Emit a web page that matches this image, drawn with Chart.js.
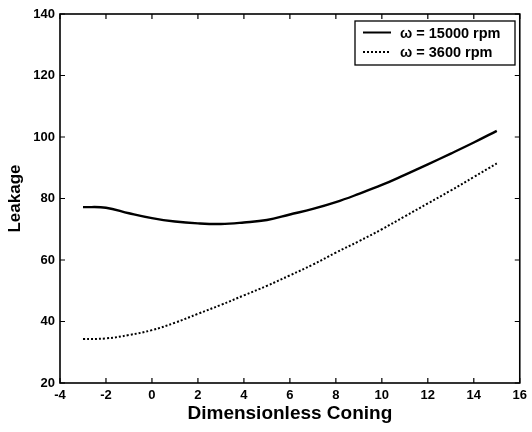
<!DOCTYPE html>
<html><head><meta charset="utf-8">
<script src="https://cdn.jsdelivr.net/npm/chart.js@4"></script>
<style>html,body{margin:0;padding:0;background:#fff}#wrap{width:532px;height:432px}</style>
</head><body><div id="wrap"><canvas id="c" width="532" height="432"></canvas></div>
<script>
const coning = [-3,-2,-1,0,1,2,3,4,5,6,7,8,9,10,11,12,13,14,15];
const leak15000 = [77.2,77.0,75.2,73.6,72.5,71.9,71.7,72.2,73.0,74.8,76.6,78.8,81.5,84.4,87.7,91.1,94.6,98.2,102];
const leak3600 = [34.3,34.5,35.6,37.2,39.6,42.5,45.4,48.5,51.6,55.0,58.5,62.4,66.1,70.0,74.2,78.4,82.6,87.0,91.4];
const seriesLabels = ['\u03c9 = 15000 rpm','\u03c9 = 3600 rpm'];
const xTicks = [-4,-2,0,2,4,6,8,10,12,14,16];
const yTicks = [20,40,60,80,100,120,140];

const FONT = 'Liberation Sans, Arial, sans-serif';

const framePlugin = {
  id:'frame',
  afterDraw(chart){
    const ctx = chart.ctx, a = chart.chartArea;
    const xs = chart.scales.x, ys = chart.scales.y;
    ctx.save();
    ctx.strokeStyle = '#000';
    ctx.lineWidth = 1.6;
    ctx.strokeRect(a.left, a.top, a.right-a.left, a.bottom-a.top);
    ctx.lineWidth = 1.2;
    const L = 5;
    ctx.beginPath();
    xTicks.forEach(v=>{
      const px = xs.getPixelForValue(v);
      ctx.moveTo(px, a.bottom); ctx.lineTo(px, a.bottom-L);
      ctx.moveTo(px, a.top); ctx.lineTo(px, a.top+L);
    });
    yTicks.forEach(v=>{
      const py = ys.getPixelForValue(v);
      ctx.moveTo(a.left, py); ctx.lineTo(a.left+L, py);
      ctx.moveTo(a.right, py); ctx.lineTo(a.right-L, py);
    });
    ctx.stroke();
    // legend box
    const bx = 355, by = a.top+7, bw = 160, bh = 44;
    ctx.fillStyle = '#fff';
    ctx.fillRect(bx, by, bw, bh);
    ctx.lineWidth = 1.3;
    ctx.strokeRect(bx, by, bw, bh);
    ctx.font = 'bold 14.5px ' + FONT;
    ctx.fillStyle = '#000';
    ctx.textBaseline = 'middle';
    const rows = [by+11.5, by+31];
    chart.data.datasets.forEach((ds,i)=>{
      ctx.beginPath();
      ctx.lineWidth = 2;
      ctx.setLineDash(ds.borderDash || []);
      ctx.moveTo(bx+8, rows[i]); ctx.lineTo(bx+36, rows[i]);
      ctx.stroke();
      ctx.setLineDash([]);
      ctx.fillText(ds.label, bx+45, rows[i]+1);
    });
    ctx.restore();
  }
};

new Chart(document.getElementById('c'), {
  type:'line',
  data:{
    datasets:[
      {label:seriesLabels[0], data:coning.map((x,i)=>({x, y:leak15000[i]})), borderColor:'#000', borderWidth:2.4, pointRadius:0, tension:0.4, fill:false},
      {label:seriesLabels[1], data:coning.map((x,i)=>({x, y:leak3600[i]})), borderColor:'#000', borderWidth:2, borderDash:[2,2], pointRadius:0, tension:0.4, fill:false}
    ]
  },
  options:{
    responsive:false,
    animation:false,
    layout:{padding:{top:14, right:9, left:0, bottom:0}},
    plugins:{legend:{display:false}, tooltip:{enabled:false}},
    scales:{
      x:{type:'linear', min:-4, max:16,
        afterBuildTicks(s){ s.ticks = xTicks.map(v=>({value:v})); },
        afterFit(s){ s.height = 49; },
        grid:{display:false, drawTicks:false}, border:{display:false},
        ticks:{color:'#000', font:{family:FONT, weight:'bold', size:13}, padding:5, maxRotation:0, autoSkip:false},
        title:{display:true, text:'Dimensionless Coning', color:'#000', font:{family:FONT, weight:'bold', size:19}, padding:{top:2,bottom:7}}
      },
      y:{type:'linear', min:20, max:140,
        afterBuildTicks(s){ s.ticks = yTicks.map(v=>({value:v})); },
        afterFit(s){ s.width = 60; },
        grid:{display:false, drawTicks:false}, border:{display:false},
        ticks:{color:'#000', font:{family:FONT, weight:'bold', size:13}, padding:5, autoSkip:false},
        title:{display:true, text:'Leakage', color:'#000', font:{family:FONT, weight:'bold', size:17}, padding:{top:5,bottom:0}}
      }
    }
  },
  plugins:[framePlugin]
});
</script></body></html>
